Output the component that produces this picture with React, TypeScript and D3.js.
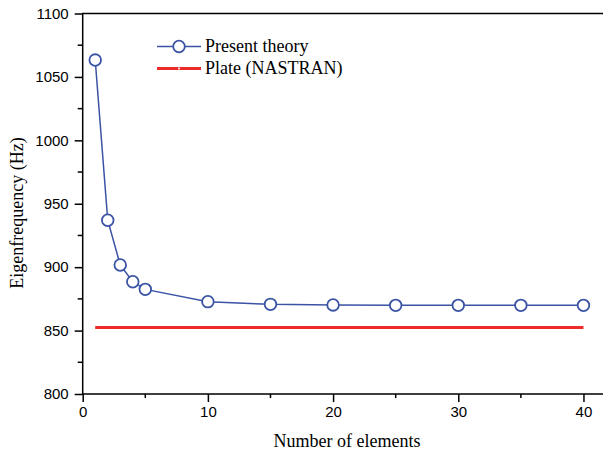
import React, { useEffect, useRef } from "react";
import * as d3 from "d3";

// number of elements vs eigenfrequency
const elements = [1, 2, 3, 4, 5, 10, 15, 20, 25, 30, 35, 40];
const presentTheory = [1063.3, 937, 901.7, 888.5, 882.5, 872.8, 870.7, 870.2, 869.9, 869.9, 869.9, 869.9];
const nastran = [852.5, 852.5, 852.5, 852.5, 852.5, 852.5, 852.5, 852.5, 852.5, 852.5, 852.5, 852.5];

const yTicks = [800, 850, 900, 950, 1000, 1050, 1100];
const xTicks = [0, 10, 20, 30, 40];

const W = 603;
const H = 452;
const BLUE = "#3a53a4";
const RED = "#ee2b2b";

const App = () => {
  const ref = useRef<SVGSVGElement>(null);

  useEffect(() => {
    const svg = d3.select(ref.current);
    svg.selectAll("*").remove();

    const left = 82.7, right = 608.5, top = 13.5, bottom = 394;
    const x = d3.scaleLinear().domain([0, 42]).range([left, right]);
    const y = d3.scaleLinear().domain([800, 1100]).range([bottom, top]);

    const g = svg.append("g");

    // frame
    g.append("rect")
      .attr("x", left).attr("y", top)
      .attr("width", right - left).attr("height", bottom - top)
      .attr("fill", "none").attr("stroke", "#000").attr("stroke-width", 1.5);

    // y axis
    const yAxis = g.append("g").attr("transform", `translate(${left},0)`);
    yAxis.call(d3.axisLeft(y).tickValues(yTicks).tickSize(8).tickPadding(6).tickFormat(d3.format("d")) as any);
    yAxis.select(".domain").remove();
    yAxis.selectAll("line").attr("stroke-width", 1.5);
    yAxis.selectAll("text")
      .attr("font-family", "Liberation Sans, Arial, sans-serif")
      .attr("font-size", 15)
      .attr("fill", "#000");
    d3.range(825, 1100, 50).forEach(v => {
      g.append("line").attr("x1", left - 5).attr("x2", left)
        .attr("y1", y(v)).attr("y2", y(v))
        .attr("stroke", "#000").attr("stroke-width", 1.5);
    });

    // x axis
    const xAxis = g.append("g").attr("transform", `translate(0,${bottom})`);
    xAxis.call(d3.axisBottom(x).tickValues(xTicks).tickSize(8).tickPadding(4) as any);
    xAxis.select(".domain").remove();
    xAxis.selectAll("line").attr("stroke-width", 1.5);
    xAxis.selectAll("text")
      .attr("font-family", "Liberation Sans, Arial, sans-serif")
      .attr("font-size", 15)
      .attr("fill", "#000");
    [5, 15, 25, 35].forEach(v => {
      g.append("line").attr("x1", x(v)).attr("x2", x(v))
        .attr("y1", bottom).attr("y2", bottom + 4)
        .attr("stroke", "#000").attr("stroke-width", 1.5);
    });

    // axis titles
    g.append("text")
      .attr("x", 347).attr("y", 447)
      .attr("text-anchor", "middle")
      .attr("font-family", "Liberation Serif, Times New Roman, serif")
      .attr("font-size", 18)
      .text("Number of elements");
    g.append("text")
      .attr("transform", "translate(23,213) rotate(-90)")
      .attr("text-anchor", "middle")
      .attr("font-family", "Liberation Serif, Times New Roman, serif")
      .attr("font-size", 18)
      .text("Eigenfrequency (Hz)");

    // NASTRAN line
    const lineRed = d3.line<number>().x((_, i) => x(elements[i])).y(d => y(d));
    g.append("path")
      .datum(nastran)
      .attr("d", lineRed)
      .attr("fill", "none").attr("stroke", RED).attr("stroke-width", 3);

    // present theory
    const lineBlue = d3.line<number>().x((_, i) => x(elements[i])).y(d => y(d));
    g.append("path")
      .datum(presentTheory)
      .attr("d", lineBlue)
      .attr("fill", "none").attr("stroke", BLUE).attr("stroke-width", 1.5);
    g.selectAll("circle.pt")
      .data(presentTheory)
      .enter().append("circle")
      .attr("class", "pt")
      .attr("cx", (_, i) => x(elements[i]))
      .attr("cy", d => y(d))
      .attr("r", 5.8)
      .attr("fill", "#fff").attr("stroke", BLUE).attr("stroke-width", 1.8);

    // legend
    const lg = g.append("g");
    lg.append("line").attr("x1", 157).attr("x2", 201).attr("y1", 46.5).attr("y2", 46.5)
      .attr("stroke", BLUE).attr("stroke-width", 1.5);
    lg.append("circle").attr("cx", 179).attr("cy", 46.5).attr("r", 5.8)
      .attr("fill", "#fff").attr("stroke", BLUE).attr("stroke-width", 1.8);
    lg.append("text").attr("x", 205).attr("y", 52)
      .attr("font-family", "Liberation Serif, Times New Roman, serif")
      .attr("font-size", 18)
      .text("Present theory");
    lg.append("line").attr("x1", 157).attr("x2", 201).attr("y1", 68.5).attr("y2", 68.5)
      .attr("stroke", RED).attr("stroke-width", 3);
    lg.append("circle").attr("cx", 179).attr("cy", 68.5).attr("r", 1)
      .attr("fill", "#fff");
    lg.append("text").attr("x", 205).attr("y", 74)
      .attr("font-family", "Liberation Serif, Times New Roman, serif")
      .attr("font-size", 18)
      .text("Plate (NASTRAN)");
  }, []);

  return (
    <svg
      ref={ref}
      width={W}
      height={H}
      style={{ position: "absolute", left: 0, top: 0, background: "#fff" }}
    />
  );
};

export default App;
